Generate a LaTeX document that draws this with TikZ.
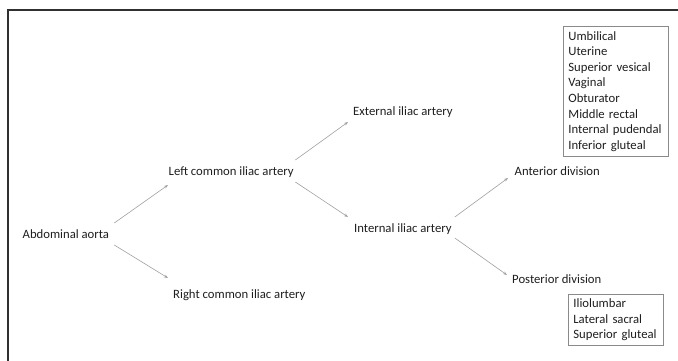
\documentclass[tikz,border=0pt]{standalone}
\usepackage{fontspec}
\setmainfont{Carlito}
\usetikzlibrary{arrows.meta}
\definecolor{txt}{HTML}{1E1E1E}
\definecolor{arrgray}{HTML}{A0A0A0}
\definecolor{boxgray}{HTML}{8A8A8A}
\definecolor{frame}{HTML}{303030}
\tikzset{
  lbl/.style={anchor=base west, inner sep=0pt, text=txt, font=\fontsize{12.7}{15.5}\selectfont},
  arr/.style={draw=arrgray, line width=0.6pt, -{Stealth[length=4pt,width=3pt]}},
  listbox/.style={anchor=north west, draw=boxgray, line width=0.8pt, align=left, text=txt,
    font=\fontsize{12.7}{15.6}\selectfont, inner xsep=5pt}
}
\begin{document}
\begin{tikzpicture}[x=1pt,y=-1pt]
\useasboundingbox (0,0) rectangle (678,361);
\draw[frame, line width=2pt] (8,365) -- (8,10) -- (682,10);

\node[lbl] (aorta) at (22.5,238) {Abdominal aorta};
\node[lbl] (lcia) at (168.5,175.5) {Left common iliac artery};
\node[lbl] (rcia) at (173,298.5) {Right common iliac artery};
\node[lbl] (eia) at (353,115) {External iliac artery};
\node[lbl] (iia) at (354,232.5) {Internal iliac artery};
\node[lbl] (ant) at (514.5,175) {Anterior division};
\node[lbl] (post) at (512,283.5) {Posterior division};

\node[listbox, text width=95pt, inner ysep=4.9pt] (antbox) at (563,26)
  {\mbox{Umbilical}\\\mbox{Uterine}\\\mbox{Superior vesical}\\\mbox{Vaginal}\\\mbox{Obturator}\\\mbox{Middle rectal}\\\mbox{Internal pudendal}\\\mbox{Inferior gluteal}};
\node[listbox, text width=85pt, inner ysep=4.2pt] (postbox) at (568,294)
  {\mbox{Iliolumbar}\\\mbox{Lateral sacral}\\\mbox{Superior gluteal}};

\draw[arr] ([shift={(5,-15)}]aorta.base east) -- ([shift={(-0.5,9.5)}]lcia.base west);
\draw[arr] ([shift={(5,7)}]aorta.base east) -- ([shift={(-5,-20.5)}]rcia.base west);
\draw[arr] ([shift={(1.5,-15.5)}]lcia.base east) -- ([shift={(-5,7)}]eia.base west);
\draw[arr] ([shift={(1.5,6.5)}]lcia.base east) -- ([shift={(-6,-15.5)}]iia.base west);
\draw[arr] ([shift={(3,-15.5)}]iia.base east) -- ([shift={(-6.5,3)}]ant.base west);
\draw[arr] ([shift={(3,5.5)}]iia.base east) -- ([shift={(-5,-8.5)}]post.base west);
\end{tikzpicture}
\end{document}
